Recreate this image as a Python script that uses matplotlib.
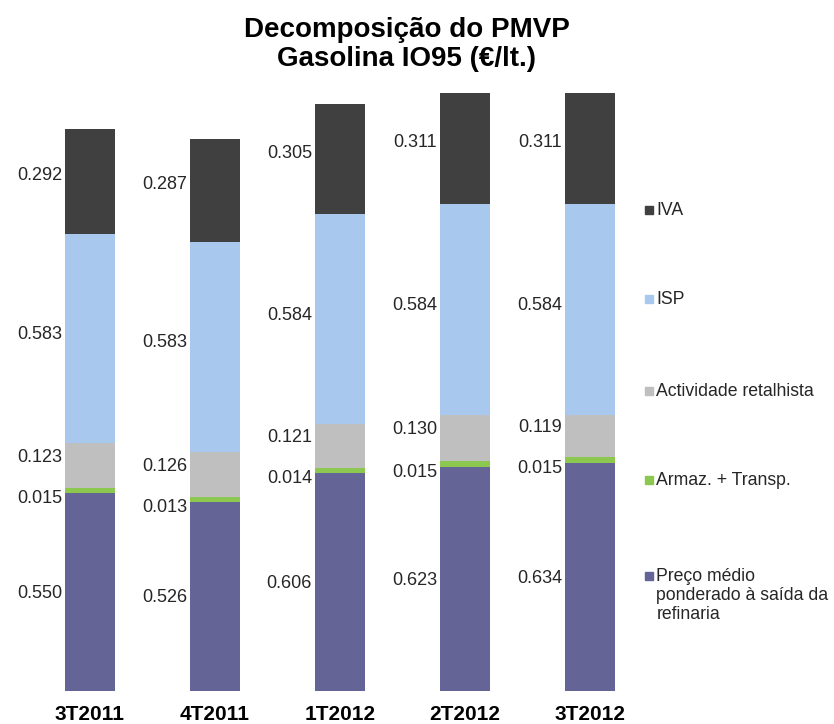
import matplotlib.pyplot as plt
from matplotlib.patches import Rectangle
import numpy as np

plt.rcParams['font.family'] = ['Liberation Sans', 'DejaVu Sans']

# data
quarters = ['3T2011', '4T2011', '1T2012', '2T2012', '3T2012']
series_names = ['Preço médio\nponderado à saída da\nrefinaria', 'Armaz. + Transp.',
                'Actividade retalhista', 'ISP', 'IVA']
preco = [0.550, 0.526, 0.606, 0.623, 0.634]
armaz = [0.015, 0.013, 0.014, 0.015, 0.015]
retalho = [0.123, 0.126, 0.121, 0.130, 0.119]
isp = [0.583, 0.583, 0.584, 0.584, 0.584]
iva = [0.292, 0.287, 0.305, 0.311, 0.311]

colors = ['#646496', '#8cc850', '#bfbfbf', '#a8c8ee', '#404040']
# vertical nudges (points) so the thin segments' labels don't collide
label_dy = [-1, -6, 6, 3, 4]

fig = plt.figure(figsize=(8.34, 7.24), dpi=100)
ax = fig.add_axes([0.033, 0.0456, 0.749, 0.845])

x = np.arange(len(quarters))
width = 0.4
bottom = np.zeros(len(quarters))
for vals, col, name, dy in zip([preco, armaz, retalho, isp, iva], colors, series_names, label_dy):
    ax.bar(x, vals, width, bottom=bottom, color=col, label=name)
    for xi, b, v in zip(x, bottom, vals):
        ax.annotate(f'{v:.3f}', (xi - width / 2, b + v / 2), xytext=(-2, dy),
                    textcoords='offset points', ha='right', va='center',
                    fontsize=13, color='#262626')
    bottom += np.array(vals)

ax.set_xlim(-0.5, 4.5)
ax.set_ylim(0, 1.7)
ax.set_yticks([])
ax.set_xticks(x)
ax.set_xticklabels(quarters, fontsize=15, fontweight='bold')
ax.tick_params(axis='x', length=0, pad=10)
for s in ax.spines.values():
    s.set_visible(False)

fig.text(0.488, 0.977, 'Decomposição do PMVP\nGasolina IO95 (€/lt.)', ha='center', va='top',
         fontsize=20, fontweight='bold', linespacing=1.18)

# legend, Excel-style with wide spacing
leg_y = [0.709, 0.586, 0.459, 0.336, 0.203]
for name, col, yy in zip(series_names[::-1], colors[::-1], leg_y):
    fig.patches.append(Rectangle((0.773, yy - 0.004), 0.0095, 0.011, color=col,
                                 transform=fig.transFigure, figure=fig))
    if '\n' in name:
        # multi-line entry: marker sits beside the first line
        fig.text(0.787, yy + 0.013, name, ha='left', va='top',
                 fontsize=12.7, color='#262626', linespacing=1.15)
    else:
        fig.text(0.787, yy, name, ha='left', va='center',
                 fontsize=12.7, color='#262626')

fig.savefig('out.png', dpi=100)
